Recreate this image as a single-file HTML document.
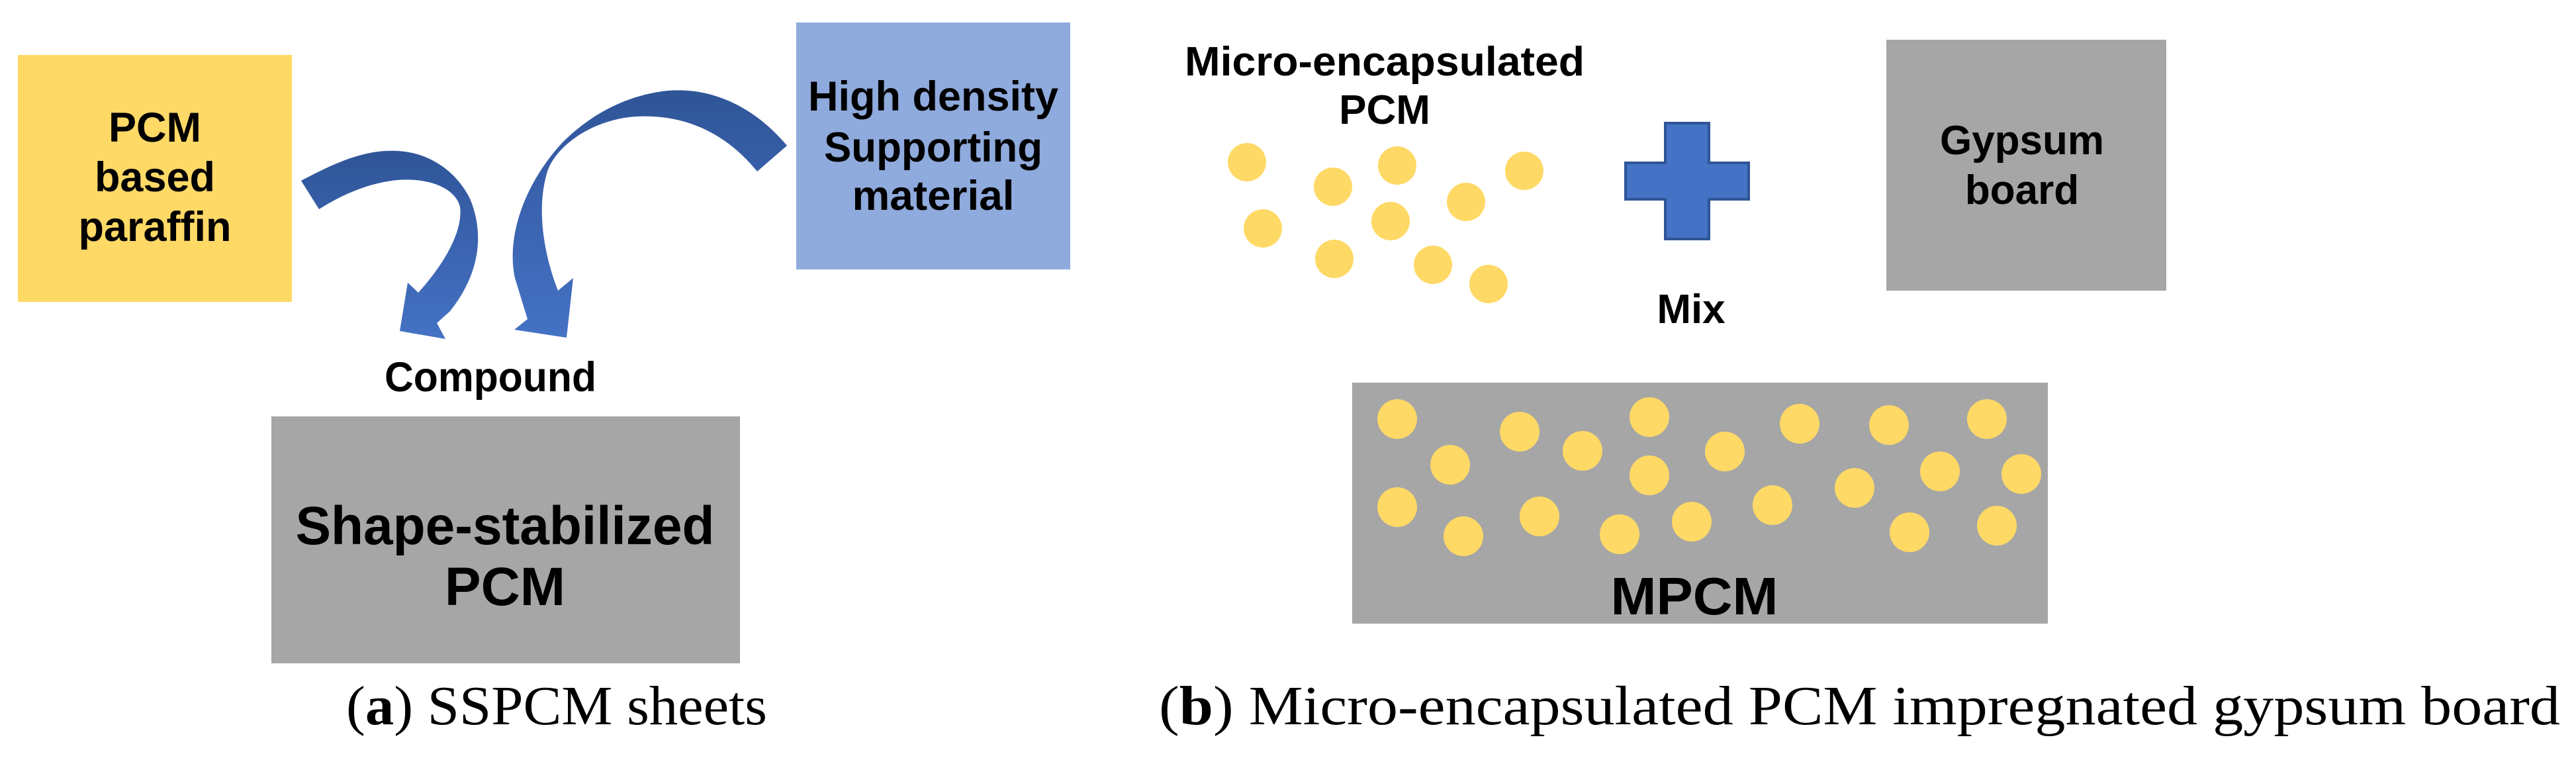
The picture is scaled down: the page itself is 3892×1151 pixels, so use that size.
<!DOCTYPE html>
<html><head><meta charset="utf-8"><style>html,body{margin:0;padding:0;background:#fff}svg{display:block}</style></head>
<body>
<svg width="3892" height="1151" viewBox="0 0 3892 1151" xmlns="http://www.w3.org/2000/svg">
<defs>
<linearGradient id="ag" x1="0" y1="0" x2="0" y2="1">
<stop offset="0" stop-color="#2F5597"/><stop offset="0.45" stop-color="#3A62AE"/><stop offset="1" stop-color="#4472C4"/>
</linearGradient>
</defs>
<g font-family="Liberation Sans, sans-serif" font-weight="bold" fill="#000" text-anchor="middle">
<!-- (a) -->
<rect x="27" y="83" width="414" height="373" fill="#FFD966"/>
<text x="234" y="214" font-size="63">PCM</text>
<text x="234" y="289" font-size="63">based</text>
<text x="234" y="364" font-size="63">paraffin</text>

<rect x="1203" y="34" width="414" height="373" fill="#8FAADC"/>
<text x="1410" y="167" font-size="63" textLength="378" lengthAdjust="spacingAndGlyphs">High density</text>
<text x="1410" y="244" font-size="63" textLength="330" lengthAdjust="spacingAndGlyphs">Supporting</text>
<text x="1410" y="317" font-size="63" textLength="245" lengthAdjust="spacingAndGlyphs">material</text>

<path d="M455,273 C520,238 560,226 600,228 C650,230 690,260 710,300 C735,360 720,420 680,470 L660,488 L673,512 L604,500 L616,427 L632,442 C670,400 700,350 695,312 C688,285 650,268 600,272 C560,276 520,292 482,316 Z" fill="url(#ag)"/>
<path d="M1189,220 C1130,150 1060,130 1000,138 C930,148 880,185 850,215 C790,280 765,360 778,420 L797,482 L777,498 L856,510 L866,420 L843,439 C820,380 810,310 828,256 C845,215 900,180 961,176 C1040,172 1100,205 1144,259 Z" fill="url(#ag)"/>

<text x="741" y="591" font-size="63" textLength="320" lengthAdjust="spacingAndGlyphs">Compound</text>

<rect x="410" y="629" width="708" height="373" fill="#A6A6A6"/>
<text x="763" y="822" font-size="82" textLength="633" lengthAdjust="spacingAndGlyphs">Shape-stabilized</text>
<text x="763" y="914" font-size="82">PCM</text>

<!-- (b) -->
<text x="2092" y="114" font-size="62" textLength="604" lengthAdjust="spacingAndGlyphs">Micro-encapsulated</text>
<text x="2092" y="187" font-size="62">PCM</text>
<g fill="#FFD966">
<circle cx="1884" cy="245" r="29"/><circle cx="2014" cy="282" r="29"/><circle cx="2111" cy="250" r="29"/><circle cx="2303" cy="258" r="29"/><circle cx="1908" cy="345" r="29"/><circle cx="2215" cy="305" r="29"/><circle cx="2101" cy="334" r="29"/><circle cx="2016" cy="391" r="29"/><circle cx="2165" cy="400" r="29"/><circle cx="2249" cy="429" r="29"/>
</g>
<path d="M2516,186 H2582 V246 H2642 V301 H2582 V361 H2516 V301 H2456 V246 H2516 Z" fill="#4472C4" stroke="#2F5597" stroke-width="4"/>
<text x="2555" y="488" font-size="62">Mix</text>

<rect x="2850" y="60" width="423" height="379" fill="#A6A6A6"/>
<text x="3055" y="233" font-size="62">Gypsum</text>
<text x="3055" y="308" font-size="62">board</text>

<rect x="2043" y="578" width="1051" height="364" fill="#A6A6A6"/>
<g fill="#FFD966">
<circle cx="2111" cy="633" r="30"/><circle cx="2296" cy="652" r="30"/><circle cx="2492" cy="630" r="30"/><circle cx="2719" cy="640" r="30"/><circle cx="2854" cy="642" r="30"/><circle cx="3002" cy="633" r="30"/><circle cx="2191" cy="702" r="30"/><circle cx="2391" cy="681" r="30"/><circle cx="2606" cy="682" r="30"/><circle cx="2492" cy="718" r="30"/><circle cx="2931" cy="712" r="30"/><circle cx="3054" cy="716" r="30"/><circle cx="2802" cy="737" r="30"/><circle cx="2111" cy="766" r="30"/><circle cx="2326" cy="780" r="30"/><circle cx="2556" cy="788" r="30"/><circle cx="2678" cy="763" r="30"/><circle cx="2211" cy="810" r="30"/><circle cx="2447" cy="807" r="30"/><circle cx="2885" cy="804" r="30"/><circle cx="3017" cy="794" r="30"/>
</g>
<text x="2560" y="928" font-size="80" textLength="253" lengthAdjust="spacingAndGlyphs">MPCM</text>
</g>
<g font-family="Liberation Serif, serif" font-size="84" fill="#000">
<text x="523" y="1094" textLength="636" lengthAdjust="spacingAndGlyphs">(<tspan font-weight="bold">a</tspan>) SSPCM sheets</text>
<text x="1751" y="1094" textLength="2117" lengthAdjust="spacingAndGlyphs">(<tspan font-weight="bold">b</tspan>) Micro-encapsulated PCM impregnated gypsum board</text>
</g>
</svg>
</body></html>
